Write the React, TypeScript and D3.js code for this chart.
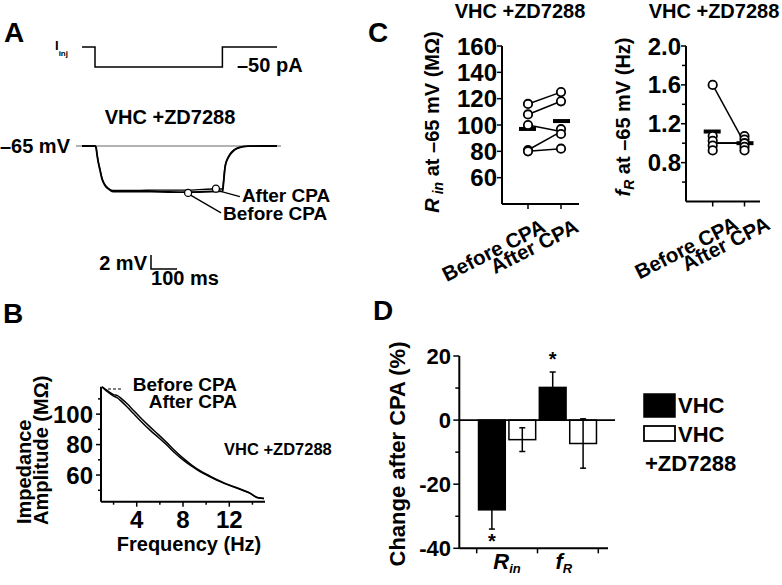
import React from 'react';
import * as d3 from 'd3';

const FONT = "'Liberation Sans', Arial, Helvetica, sans-serif";

// ---------- Panel A : current step and voltage traces ----------
const stepTime = [0, 50, 50, 540, 540, 750];
const stepCurrent = [0, 0, -50, -50, 0, 0];
const traceTime = [0, 50, 54, 58, 63, 69, 77, 88, 100, 119, 200, 300, 400, 500, 541, 544, 547, 550, 555, 562, 570, 585, 600, 620, 640, 700, 750];
const traceBeforeV = [-65, -65, -65.2, -66.3, -67.4, -68.4, -69.7, -70.6, -71.1, -71.5, -71.5, -71.55, -71.6, -71.5, -71.45, -70.4, -69.2, -68.1, -67.3, -66.7, -66.2, -65.6, -65.3, -65.1, -65.03, -65, -65];
const traceAfterV = [-65, -65, -65.2, -66.2, -67.3, -68.3, -69.6, -70.5, -71.0, -71.35, -71.35, -71.3, -71.3, -71.15, -71.15, -70.2, -69.0, -68.0, -67.2, -66.6, -66.1, -65.55, -65.25, -65.08, -65.02, -65, -65];
const markerLabels = ['Before CPA', 'After CPA'];
const markerTime = [408, 515];
const markerV = [-71.7, -71.1];

// ---------- Panel B : impedance amplitude ----------
const freqHz = [1, 1.5, 2, 2.3, 2.7, 3.2, 3.7, 4.4, 5.15, 5.9, 6.6, 7.3, 8.03, 8.75, 9.47, 10.2, 10.9, 11.6, 12.35, 13.1, 13.8, 14.4, 15];
const zBefore = [117.9, 114.5, 111.8, 110.8, 108.2, 104.5, 100.5, 95, 89.5, 84.5, 79.7, 74.5, 69.8, 65.8, 62.2, 59.3, 56.7, 54.4, 52.3, 50.1, 48, 45.2, 44.6];
const zAfter = [117.9, 115.2, 112.8, 112.3, 110, 106.6, 102.6, 97.1, 91.6, 86.4, 81.3, 75.9, 70.9, 66.6, 62.9, 59.9, 57.1, 54.7, 52.5, 50.3, 48.1, 45.3, 44.6];
const bTicksMajor = [60, 80, 100];
const bTicksMinor = [50, 70, 90, 110];
const bXTicksMajor = [4, 8, 12];
const bXTicksMinor = [2, 6, 10, 14];

// ---------- Panel C : paired data ----------
const cCategories = ['Before CPA', 'After CPA'];
const rinBefore = [116, 108, 100, 81, 80];
const rinAfter = [125, 118, 95, 95, 82];
const frBefore = [1.6, 1.0, 1.0, 1.0, 1.0];
const frAfter = [1.0, 1.0, 1.0, 1.0, 1.0];
const rinTicks = [60, 80, 100, 120, 140, 160];
const frTicksMajor = [0.8, 1.2, 1.6, 2.0];
const frTicksMinor = [0.6, 1.0, 1.4, 1.8];

// ---------- Panel D : change after CPA ----------
const dCategories = ['Rin', 'fR'];
const dGroups = ['VHC', 'VHC +ZD7288'];
const vhcMean = [-28, 10.2];
const vhcErr = [6, 4.8];
const zdMean = [-6.1, -7.3];
const zdErr = [3.7, 7.7];
const vhcSignificant = [true, true];
const dTicksMajor = [-40, -20, 0, 20];
const dTicksMinor = [-30, -10, 10];

const T: React.CSSProperties = { fontFamily: FONT, fontWeight: 700 };

function stackOffsets(values: number[], spacing: number, spread: number) {
  const groups = new Map<number, number[]>();
  values.forEach((v, i) => {
    const k = Math.round(v * 1000);
    if (!groups.has(k)) groups.set(k, []);
    groups.get(k)!.push(i);
  });
  const off = values.map(() => 0);
  groups.forEach((idx) => {
    const n = idx.length;
    if (n < 2) return;
    const sp = Math.min(spacing, spread / (n - 1));
    idx.forEach((ii, j) => { off[ii] = (j - (n - 1) / 2) * sp; });
  });
  return off;
}

function PanelA() {
  const xT = d3.scaleLinear().domain([0, 750]).range([82, 277]);
  const yV = d3.scaleLinear().domain([-72, -65]).range([195, 146]);
  const yI = d3.scaleLinear().domain([-50, 0]).range([67, 47]);
  const stepLine = d3.line<number>().x((_, i) => xT(stepTime[i])).y((d) => yI(d));
  const vLine = d3.line<number>().x((_, i) => xT(traceTime[i])).y((d) => yV(d)).curve(d3.curveMonotoneX);
  const mOffsets = [
    { lx: 33, ly: 20, tx: 35, ty: 27 },
    { lx: 24, ly: 8, tx: 26, ty: 13 },
  ];
  const sbX = 151, sbY = 269;
  return (
    <g>
      <text x={4} y={42} style={{ ...T, fontSize: 28 }}>A</text>
      <text x={55} y={50} style={{ ...T, fontSize: 13 }}>I<tspan fontSize={8} dy={6}>inj</tspan></text>
      <path d={stepLine(stepCurrent) || ''} fill="none" stroke="#000" strokeWidth={1.5} />
      <text x={237} y={72} style={{ ...T, fontSize: 20 }}>–50 pA</text>
      <text x={170} y={124} textAnchor="middle" style={{ ...T, fontSize: 20 }}>VHC +ZD7288</text>
      <text x={70} y={153} textAnchor="end" style={{ ...T, fontSize: 20 }}>–65 mV</text>
      <line x1={76} x2={281} y1={yV(-65)} y2={yV(-65)} stroke="#9a9a9a" strokeWidth={1.5} />
      <path d={vLine(traceBeforeV) || ''} fill="none" stroke="#000" strokeWidth={1.8} />
      <path d={vLine(traceAfterV) || ''} fill="none" stroke="#000" strokeWidth={1.4} />
      {markerLabels.map((lab, i) => {
        const cx = xT(markerTime[i]);
        const cy = yV(markerV[i]);
        const o = mOffsets[i];
        return (
          <g key={lab}>
            <line x1={cx + 2} y1={cy + 2} x2={cx + o.lx} y2={cy + o.ly} stroke="#000" strokeWidth={1.3} />
            <circle cx={cx} cy={cy} r={3.5} fill="#fff" stroke="#000" strokeWidth={1.3} />
            <text x={cx + o.tx} y={cy + o.ty} style={{ ...T, fontSize: 19 }}>{lab}</text>
          </g>
        );
      })}
      {/* scale bar: 2 mV, 100 ms */}
      <path d={`M${sbX},${sbY - (yV(-67) - yV(-65))}V${sbY}H${sbX + (xT(100) - xT(0))}`} fill="none" stroke="#000" strokeWidth={1.5} />
      <text x={147} y={270} textAnchor="end" style={{ ...T, fontSize: 20 }}>2 mV</text>
      <text x={185} y={285} textAnchor="middle" style={{ ...T, fontSize: 20 }}>100 ms</text>
    </g>
  );
}

function PanelB() {
  const xF = d3.scaleLinear().domain([1, 15]).range([102, 264]);
  const yZ = d3.scaleLinear().domain([42.5, 118]).range([501.7, 386.7]);
  const line = d3.line<number>().x((_, i) => xF(freqHz[i])).y((d) => yZ(d)).curve(d3.curveMonotoneX);
  const ax = 101, ay = 501.7;
  return (
    <g>
      <text x={3} y={323} style={{ ...T, fontSize: 28 }}>B</text>
      <path d={line(zBefore) || ''} fill="none" stroke="#000" strokeWidth={1.5} />
      <path d={line(zAfter) || ''} fill="none" stroke="#000" strokeWidth={1.5} />
      <line x1={ax} x2={ax} y1={386.7} y2={ay} stroke="#000" strokeWidth={2} />
      <line x1={ax} x2={265} y1={ay} y2={ay} stroke="#000" strokeWidth={2} />
      {bTicksMajor.map((t) => (
        <g key={t}>
          <line x1={ax - 5} x2={ax} y1={yZ(t)} y2={yZ(t)} stroke="#000" strokeWidth={1.5} />
          <text x={93} y={yZ(t) + 8.5} textAnchor="end" style={{ ...T, fontSize: 24 }}>{t}</text>
        </g>
      ))}
      {bTicksMinor.map((t) => (
        <line key={t} x1={ax - 3} x2={ax} y1={yZ(t)} y2={yZ(t)} stroke="#000" strokeWidth={1.5} />
      ))}
      {bXTicksMajor.map((t) => (
        <g key={t}>
          <line x1={xF(t)} x2={xF(t)} y1={ay} y2={ay + 5} stroke="#000" strokeWidth={1.5} />
          <text x={xF(t)} y={528} textAnchor="middle" style={{ ...T, fontSize: 24 }}>{t}</text>
        </g>
      ))}
      {bXTicksMinor.map((t) => (
        <line key={t} x1={xF(t)} x2={xF(t)} y1={ay} y2={ay + 3} stroke="#000" strokeWidth={1.5} />
      ))}
      <text x={189} y={551} textAnchor="middle" style={{ ...T, fontSize: 20 }}>Frequency (Hz)</text>
      <text transform="translate(31,524) rotate(-90)" style={{ ...T, fontSize: 20 }}>Impedance</text>
      <text transform="translate(48,525) rotate(-90)" style={{ ...T, fontSize: 20 }}>Amplitude (MΩ)</text>
      <line x1={108} x2={123} y1={389} y2={389} stroke="#000" strokeWidth={1.2} strokeDasharray="3,2" />
      <text x={237} y={391} textAnchor="end" style={{ ...T, fontSize: 19 }}>Before CPA</text>
      <text x={237} y={408} textAnchor="end" style={{ ...T, fontSize: 19 }}>After CPA</text>
      <text x={224} y={455} style={{ ...T, fontSize: 16.5 }}>VHC +ZD7288</text>
    </g>
  );
}

function PairedPanel(props: {
  before: number[]; after: number[]; y: d3.ScaleLinear<number, number>;
  xRange: [number, number]; axisX: number; axisRight: number; title: string; titleX: number;
  major: number[]; minor: number[]; fmt: (v: number) => string; label: React.ReactNode; labelX: number; labelY: number;
  labelShift: number;
}) {
  const { before, after, y } = props;
  const x = d3.scalePoint<string>().domain(cCategories).range(props.xRange);
  const axisY = y.range()[0];
  const top = y.range()[1];
  const mean = (a: number[]) => d3.mean(a) as number;
  const offB = stackOffsets(before, 4.8, 14.4);
  const offA = stackOffsets(after, 4.8, 14.4);
  const xb = x(cCategories[0])!, xa = x(cCategories[1])!;
  return (
    <g>
      <text x={props.titleX} y={18} textAnchor="middle" style={{ ...T, fontSize: 20 }}>{props.title}</text>
      <line x1={props.axisX} x2={props.axisX} y1={top} y2={axisY} stroke="#000" strokeWidth={2} />
      <line x1={props.axisX} x2={props.axisRight} y1={axisY} y2={axisY} stroke="#000" strokeWidth={2} />
      {props.major.map((t) => (
        <g key={t}>
          <line x1={props.axisX - 5} x2={props.axisX} y1={y(t)} y2={y(t)} stroke="#000" strokeWidth={1.5} />
          <text x={props.axisX - 5} y={y(t) + 8.5} textAnchor="end" style={{ ...T, fontSize: 24 }}>{props.fmt(t)}</text>
        </g>
      ))}
      {props.minor.map((t) => (
        <line key={t} x1={props.axisX - 4} x2={props.axisX} y1={y(t)} y2={y(t)} stroke="#000" strokeWidth={1.5} />
      ))}
      {cCategories.map((c) => (
        <g key={c}>
          <line x1={x(c)} x2={x(c)} y1={axisY} y2={axisY + 5} stroke="#000" strokeWidth={1.5} />
          <text transform={`translate(${x(c)! + props.labelShift},${axisY + 27}) rotate(-27)`} textAnchor="end" style={{ ...T, fontSize: 20.5 }}>{c}</text>
        </g>
      ))}
      {before.map((b, i) => (
        <line key={i} x1={xb} y1={y(b)} x2={xa} y2={y(after[i])} stroke="#000" strokeWidth={1.5} />
      ))}
      <line x1={xb - 9} x2={xb + 8} y1={y(mean(before))} y2={y(mean(before))} stroke="#000" strokeWidth={4} />
      <line x1={xa - 8} x2={xa + 9} y1={y(mean(after))} y2={y(mean(after))} stroke="#000" strokeWidth={4} />
      {before.map((b, i) => (
        <circle key={'b' + i} cx={xb} cy={y(b) + offB[i]} r={4.2} fill="#fff" stroke="#000" strokeWidth={1.8} />
      ))}
      {after.map((a, i) => (
        <circle key={'a' + i} cx={xa} cy={y(a) + offA[i]} r={4.2} fill="#fff" stroke="#000" strokeWidth={1.8} />
      ))}
      <text transform={`translate(${props.labelX},${props.labelY}) rotate(-90)`} textAnchor="middle" style={{ ...T, fontSize: 20 }}>{props.label}</text>
    </g>
  );
}

function PanelC() {
  const yR = d3.scaleLinear().domain([40, 160]).range([204, 46]);
  const yF = d3.scaleLinear().domain([0.4, 2.0]).range([201.5, 46]);
  return (
    <g>
      <text x={368} y={42} style={{ ...T, fontSize: 28 }}>C</text>
      <PairedPanel before={rinBefore} after={rinAfter} y={yR} xRange={[528, 561]} axisX={502} axisRight={579}
        title="VHC +ZD7288" titleX={520} major={rinTicks} minor={[]} fmt={(v) => String(v)}
        label={<><tspan fontStyle="italic">R</tspan><tspan fontStyle="italic" fontSize={14} dy={4}> in</tspan><tspan dy={-4}> at –65 mV (MΩ)</tspan></>}
        labelX={439} labelY={122} labelShift={19} />
      <PairedPanel before={frBefore} after={frAfter} y={yF} xRange={[712.7, 744.5]} axisX={686} axisRight={760}
        title="VHC +ZD7288" titleX={714} major={frTicksMajor} minor={frTicksMinor} fmt={(v) => v.toFixed(1)}
        label={<><tspan fontStyle="italic">f</tspan><tspan fontStyle="italic" fontSize={14} dy={4}>R</tspan><tspan dy={-4}> at –65 mV (Hz)</tspan></>}
        labelX={630} labelY={117} labelShift={27} />
    </g>
  );
}

function PanelD() {
  const y = d3.scaleLinear().domain([-40, 20]).range([548.3, 356]);
  const x = d3.scaleBand<string>().domain(dCategories).range([476.7, 598.3]);
  const xi = d3.scaleBand<string>().domain(dGroups).range([0, x.bandwidth()]).paddingInner(0.12).paddingOuter(0.06);
  const ax = 459.3, ay = 548.3;
  const series = [
    { g: dGroups[0], mean: vhcMean, err: vhcErr, fill: '#000' },
    { g: dGroups[1], mean: zdMean, err: zdErr, fill: '#fff' },
  ];
  return (
    <g>
      <text x={373} y={320} style={{ ...T, fontSize: 28 }}>D</text>
      {series.map((s) => dCategories.map((c, i) => {
        const bx = x(c)! + xi(s.g)!;
        const bw = xi.bandwidth();
        const v = s.mean[i];
        return (
          <rect key={s.g + c} x={bx} y={Math.min(y(v), y(0))} width={bw} height={Math.abs(y(v) - y(0))}
            fill={s.fill} stroke="#000" strokeWidth={1.5} />
        );
      }))}
      {series.map((s) => dCategories.map((c, i) => {
        const cx = x(c)! + xi(s.g)! + xi.bandwidth() / 2;
        const lo = y(s.mean[i] - s.err[i]);
        const hi = y(s.mean[i] + s.err[i]);
        return (
          <g key={'e' + s.g + c}>
            <line x1={cx} x2={cx} y1={hi} y2={lo} stroke="#000" strokeWidth={1.5} />
            <line x1={cx - 3} x2={cx + 3} y1={hi} y2={hi} stroke="#000" strokeWidth={1.5} />
            <line x1={cx - 3} x2={cx + 3} y1={lo} y2={lo} stroke="#000" strokeWidth={1.5} />
          </g>
        );
      }))}
      {dCategories.map((c, i) => {
        if (!vhcSignificant[i]) return null;
        const cx = x(c)! + xi(dGroups[0])! + xi.bandwidth() / 2;
        const m = vhcMean[i], e = vhcErr[i];
        const sy = m < 0 ? y(m - e) + 19 : y(m + e) - 6;
        return <text key={'s' + c} x={cx} y={sy} textAnchor="middle" style={{ ...T, fontSize: 20 }}>*</text>;
      })}
      <line x1={ax} x2={615} y1={y(0)} y2={y(0)} stroke="#000" strokeWidth={1.8} />
      <line x1={ax} x2={ax} y1={356} y2={ay} stroke="#000" strokeWidth={2} />
      <line x1={ax} x2={608} y1={ay} y2={ay} stroke="#000" strokeWidth={2} />
      {dTicksMajor.map((t) => (
        <g key={t}>
          <line x1={ax - 6} x2={ax} y1={y(t)} y2={y(t)} stroke="#000" strokeWidth={1.5} />
          <text x={451} y={y(t) + 8} textAnchor="end" style={{ ...T, fontSize: 22 }}>{t}</text>
        </g>
      ))}
      {dTicksMinor.map((t) => (
        <line key={t} x1={ax - 4} x2={ax} y1={y(t)} y2={y(t)} stroke="#000" strokeWidth={1.5} />
      ))}
      {[...dCategories.map((c) => x(c)!), 598.3].map((tx, i) => (
        <line key={i} x1={tx} x2={tx} y1={ay} y2={ay + 5} stroke="#000" strokeWidth={1.5} />
      ))}
      <text x={x('Rin')! + x.bandwidth() / 2} y={569} textAnchor="middle" style={{ ...T, fontSize: 22 }}>
        <tspan fontStyle="italic">R</tspan><tspan fontStyle="italic" fontSize={13} dy={4}>in</tspan>
      </text>
      <text x={x('fR')! + x.bandwidth() / 2 - 4} y={569} textAnchor="middle" style={{ ...T, fontSize: 22 }}>
        <tspan fontStyle="italic">f</tspan><tspan fontStyle="italic" fontSize={13} dy={4}>R</tspan>
      </text>
      <text transform="translate(405,454) rotate(-90)" textAnchor="middle" style={{ ...T, fontSize: 22 }}>Change after CPA (%)</text>
      {/* legend */}
      <rect x={644} y={394} width={31} height={23} fill="#000" stroke="#000" strokeWidth={1.5} />
      <text x={678} y={413} style={{ ...T, fontSize: 22 }}>VHC</text>
      <rect x={644} y={426} width={31} height={15} fill="#fff" stroke="#000" strokeWidth={1.8} />
      <text x={678} y={442} style={{ ...T, fontSize: 22 }}>VHC</text>
      <text x={645} y={471} style={{ ...T, fontSize: 22 }}>+ZD7288</text>
    </g>
  );
}

export default function App() {
  return (
    <svg width={782} height={585} viewBox="0 0 782 585" style={{ position: 'absolute', left: 0, top: 0, background: '#fff' }}>
      <rect width={782} height={585} fill="#fff" />
      <PanelA />
      <PanelB />
      <PanelC />
      <PanelD />
    </svg>
  );
}
